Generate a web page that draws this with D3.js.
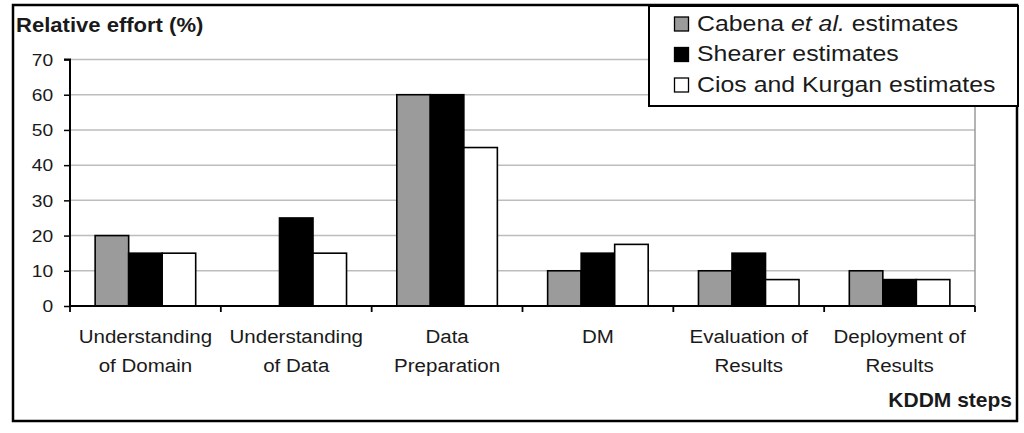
<!DOCTYPE html>
<html>
<head>
<meta charset="utf-8">
<script src="https://cdn.jsdelivr.net/npm/d3@7"></script>
<style>
  html, body { margin: 0; padding: 0; background: #fff; }
  svg { display: block; font-family: Arial, "Liberation Sans", Helvetica, sans-serif; }
</style>
</head>
<body>
<svg id="chart" width="1024" height="433"></svg>
<script>
// ---- data ----
const categories = ["Understanding of Domain", "Understanding of Data", "Data Preparation", "DM", "Evaluation of Results", "Deployment of Results"];
const categoryLines = [["Understanding", "of Domain"], ["Understanding", "of Data"], ["Data", "Preparation"], ["DM"], ["Evaluation of", "Results"], ["Deployment of", "Results"]];
const seriesNames = ["Cabena", "Shearer", "Cios and Kurgan"];
const cabena = [20, null, 60, 10, 10, 10];
const shearer = [15, 25, 60, 15, 15, 7.5];
const cios = [15, 15, 45, 17.5, 7.5, 7.5];
const yTicks = [0, 10, 20, 30, 40, 50, 60, 70];
const seriesColors = ["#9b9b9b", "#000000", "#ffffff"];

(function () {
const seriesValues = [cabena, shearer, cios];

const svg = d3.select("#chart");
const pLeft = 70, pRight = 975, pTop = 59.5, pBottom = 306;

// outer frame
svg.append("rect").attr("x", 13).attr("y", 5).attr("width", 1004).attr("height", 416)
  .attr("fill", "#fff").attr("stroke", "#000").attr("stroke-width", 2.5);

const x = d3.scaleBand().domain(categories).range([pLeft, pRight]).paddingInner(1/3).paddingOuter(1/6);
const xs = d3.scaleBand().domain(seriesNames).range([0, x.bandwidth()]).padding(0);
const y = d3.scaleLinear().domain([0, 70]).range([pBottom, pTop]);

// gridlines
svg.append("g").selectAll("line").data(yTicks.filter(d => d > 0)).join("line")
  .attr("x1", pLeft).attr("x2", pRight)
  .attr("y1", d => y(d)).attr("y2", d => y(d))
  .attr("stroke", "#bdbdbd").attr("stroke-width", 1.5);
// right plot border
svg.append("line").attr("x1", pRight).attr("x2", pRight).attr("y1", y(70)).attr("y2", y(0))
  .attr("stroke", "#9a9a9a").attr("stroke-width", 1.5);

// bars
const rows = [];
categories.forEach((c, i) => seriesNames.forEach((s, j) => {
  if (seriesValues[j][i] != null) rows.push({ c, s, v: seriesValues[j][i], color: seriesColors[j] });
}));
svg.append("g").selectAll("rect").data(rows).join("rect")
  .attr("x", d => x(d.c) + xs(d.s))
  .attr("y", d => y(d.v))
  .attr("width", xs.bandwidth())
  .attr("height", d => y(0) - y(d.v))
  .attr("fill", d => d.color)
  .attr("stroke", "#000").attr("stroke-width", 1.6);

// y axis
const yAxis = svg.append("g").attr("transform", `translate(${pLeft},0)`)
  .call(d3.axisLeft(y).tickValues(yTicks).tickSize(6).tickPadding(12));
yAxis.select(".domain").attr("stroke", "#000").attr("stroke-width", 2).attr("d", `M-6,${y(70)}H0V${y(0)}`);
yAxis.selectAll(".tick line").attr("stroke", "#000").attr("stroke-width", 1.5);
yAxis.selectAll(".tick text")
  .attr("x", -14).attr("dy", "0.36em")
  .attr("transform", "scale(1.2,1)")
  .attr("font-size", 16).attr("fill", "#1a1a1a")
  .style("font-family", "Arial, 'Liberation Sans', sans-serif");

// x axis line
svg.append("line").attr("x1", pLeft).attr("x2", pRight).attr("y1", y(0)).attr("y2", y(0))
  .attr("stroke", "#000").attr("stroke-width", 2);
// category boundary ticks
const bounds = categories.map((c, i) => i === 0 ? pLeft : x(c) - x.step() * x.paddingInner() / 2);
bounds.push(pRight);
svg.append("g").selectAll("line").data(bounds).join("line")
  .attr("x1", d => d).attr("x2", d => d).attr("y1", y(0)).attr("y2", y(0) + 6)
  .attr("stroke", "#000").attr("stroke-width", 1.8);

// category labels
function stretched(parent, tx, ty, sx, text, size, weight, anchor) {
  return parent.append("text")
    .attr("transform", `translate(${tx},${ty}) scale(${sx},1)`)
    .attr("text-anchor", anchor).attr("font-size", size).attr("font-weight", weight)
    .attr("fill", "#1a1a1a").text(text);
}
const labG = svg.append("g");
categories.forEach((c, i) => {
  categoryLines[i].forEach((line, k) => {
    stretched(labG, x(c) + x.bandwidth() / 2, 342.5 + k * 29, 1.08, line, 19, "normal", "middle");
  });
});

// axis titles
stretched(svg, 16, 32.3, 1.05, "Relative effort (%)", 21, "bold", "start");
stretched(svg, 1012, 406.7, 1.05, "KDDM steps", 20, "bold", "end");

// legend
svg.append("rect").attr("x", 649).attr("y", 6).attr("width", 369).attr("height", 100)
  .attr("fill", "#fff").attr("stroke", "#000").attr("stroke-width", 2);
const legendRows = [
  { color: seriesColors[0], parts: [["Cabena ", "normal"], ["et al.", "italic"], [" estimates", "normal"]] },
  { color: seriesColors[1], parts: [["Shearer estimates", "normal"]] },
  { color: seriesColors[2], parts: [["Cios and Kurgan estimates", "normal"]] }
];
legendRows.forEach((r, i) => {
  const cy = 24 + i * 30.5;
  svg.append("rect").attr("x", 674.5).attr("y", cy - 7).attr("width", 14).attr("height", 14)
    .attr("fill", r.color).attr("stroke", "#000").attr("stroke-width", 1.3);
  const t = svg.append("text")
    .attr("transform", `translate(697,${cy + 6.5}) scale(1.13,1)`)
    .attr("font-size", 22).attr("fill", "#1a1a1a");
  r.parts.forEach(p => t.append("tspan").attr("font-style", p[1]).text(p[0]));
});
})();
</script>
</body>
</html>
